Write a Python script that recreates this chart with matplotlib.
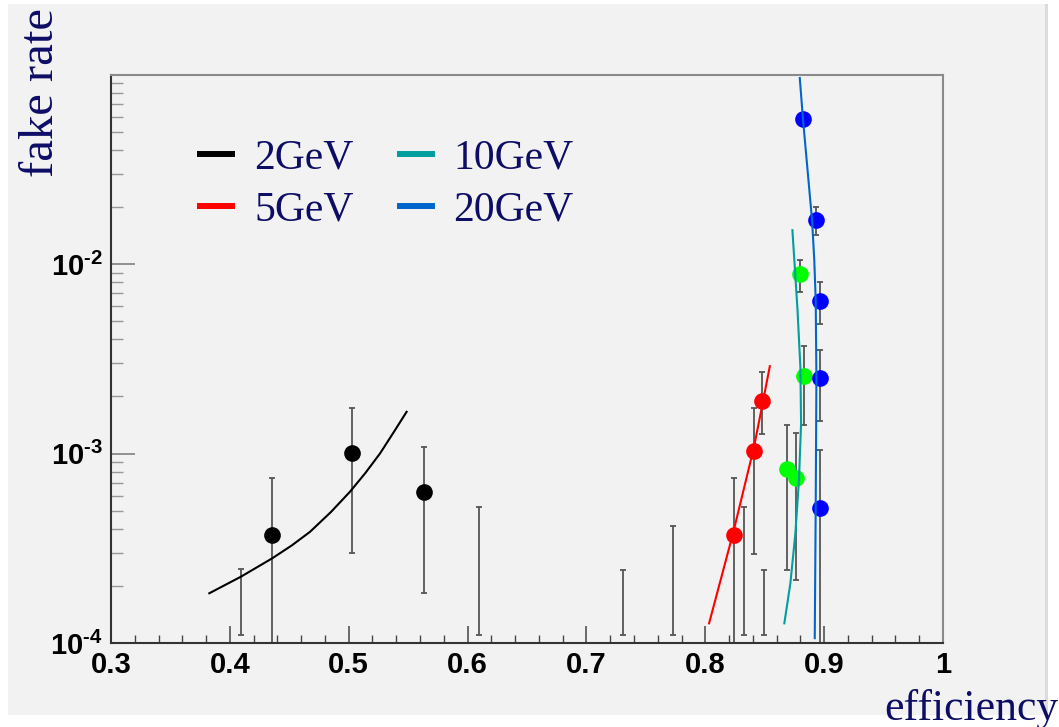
import numpy as np
import matplotlib
matplotlib.use("Agg")
import matplotlib.pyplot as plt
from matplotlib.patches import Rectangle
from matplotlib.lines import Line2D
from matplotlib.ticker import FixedLocator, FixedFormatter, MultipleLocator

plt.rcParams['mathtext.fontset'] = 'custom'
plt.rcParams['mathtext.rm'] = 'Liberation Sans:bold'
plt.rcParams['mathtext.bf'] = 'Liberation Sans:bold'

# measured points: efficiency, fake rate, error bar bounds
eff_2 = [0.4357, 0.5024, 0.5632]
fake_2 = [3.7e-4, 1.01e-3, 6.3e-4]
lo_2 = [5e-5, 2.97e-4, 1.84e-4]
hi_2 = [7.4e-4, 1.73e-3, 1.08e-3]

eff_5 = [0.824, 0.8408, 0.8475]
fake_5 = [3.7e-4, 1.025e-3, 1.9e-3]
lo_5 = [5e-5, 2.96e-4, 1.27e-3]
hi_5 = [7.43e-4, 1.73e-3, 2.7e-3]

eff_10 = [0.8691, 0.8761, 0.8801, 0.8831]
fake_10 = [8.3e-4, 7.4e-4, 8.83e-3, 2.56e-3]
lo_10 = [2.42e-4, 2.16e-4, 7.16e-3, 1.42e-3]
hi_10 = [1.42e-3, 1.28e-3, 1.05e-2, 3.7e-3]

eff_20 = [0.882, 0.8935, 0.8963, 0.8963, 0.8963]
fake_20 = [5.8e-2, 1.71e-2, 6.37e-3, 2.51e-3, 5.17e-4]
lo_20 = [5.8e-2, 1.42e-2, 4.82e-3, 1.49e-3, 5e-5]
hi_20 = [5.8e-2, 2.01e-2, 8.04e-3, 3.51e-3, 1.04e-3]

# bins with zero fake rate, only the upper error is visible
eff_empty = [0.4093, 0.6095, 0.7309, 0.7729, 0.8327, 0.8492]
hi_empty = [2.45e-4, 5.2e-4, 2.43e-4, 4.16e-4, 5.2e-4, 2.43e-4]
lo_empty = 1.1e-4

# fit curves
fit2_x = [0.3827, 0.4094, 0.4357, 0.452, 0.4674, 0.485, 0.5010, 0.514, 0.5263, 0.538, 0.5487]
fit2_y = [1.83e-4, 2.24e-4, 2.80e-4, 3.27e-4, 3.86e-4, 4.91e-4, 6.28e-4, 7.89e-4, 1.00e-3,
          1.30e-3, 1.66e-3]
fit5_x = [0.8032, 0.8234, 0.8408, 0.8475, 0.8543]
fit5_y = [1.27e-4, 3.80e-4, 1.07e-3, 1.74e-3, 2.89e-3]
fit10_x = [0.8665, 0.8716, 0.8758, 0.8788, 0.8806, 0.8800, 0.8775, 0.8733]
fit10_y = [1.27e-4, 2.07e-4, 3.79e-4, 7.24e-4, 1.44e-3, 2.87e-3, 5.86e-3, 1.51e-2]
fit20_x = [0.8795, 0.8822, 0.8898, 0.8917, 0.8929, 0.8935, 0.8929, 0.8921]
fit20_y = [9.59e-2, 5.82e-2, 1.71e-2, 1.05e-2, 6.46e-3, 2.50e-3, 5.22e-4, 1.06e-4]

labels = ['2GeV', '5GeV', '10GeV', '20GeV']
x_ticks = [0.3, 0.4, 0.5, 0.6, 0.7, 0.8, 0.9, 1.0]
x_ticklabels = ['0.3', '0.4', '0.5', '0.6', '0.7', '0.8', '0.9', '1']
y_ticks = [1e-4, 1e-3, 1e-2]
y_ticklabels = [r'$10^{\text{-}4}$', r'$10^{\text{-}3}$', r'$10^{\text{-}2}$']

navy = '#0d0d66'
bg = '#f2f2f2'
W, H = 1059, 727

fig = plt.figure(figsize=(W / 100, H / 100), dpi=100)
fig.patch.set_facecolor('white')
fig.patches.append(Rectangle((8 / W, 12 / H), 1039 / W, 711 / H, transform=fig.transFigure,
                             facecolor=bg, edgecolor='none', zorder=-10))
fig.patches.append(Rectangle((1045 / W, 12 / H), 3 / W, 711 / H, transform=fig.transFigure,
                             facecolor='#dcdcdc', edgecolor='none', zorder=-9))

ax = fig.add_axes([111 / W, (H - 643) / H, (943 - 111) / W, (643 - 75) / H])
ax.set_facecolor(bg)
ax.set_yscale('log')
ax.set_xlim(0.3, 1.0)
ax.set_ylim(1e-4, 0.0995)

err_kw = dict(fmt='none', ecolor='#555555', elinewidth=1.3, capsize=2.2, capthick=1.3, zorder=2)


def draw_points(x, y, lo, hi, color):
    x = np.array(x)
    y = np.array(y)
    yerr = [y - np.array(lo), np.array(hi) - y]
    ax.errorbar(x, y, yerr=yerr, **err_kw)
    ax.plot(x, y, 'o', color=color, markersize=12, markeredgewidth=0, zorder=3)


hi_e = np.array(hi_empty)
ax.errorbar(eff_empty, hi_e, yerr=[hi_e - lo_empty, np.zeros_like(hi_e)], **err_kw)

draw_points(eff_2, fake_2, lo_2, hi_2, 'black')
draw_points(eff_5, fake_5, lo_5, hi_5, '#ff0000')
draw_points(eff_10, fake_10, lo_10, hi_10, '#00ff00')
draw_points(eff_20, fake_20, lo_20, hi_20, '#0000ff')

fit_colors = ['black', '#ff0000', '#009e9e', '#0066cc']
ax.plot(fit2_x, fit2_y, color=fit_colors[0], lw=1.5, zorder=4)
ax.plot(fit5_x, fit5_y, color=fit_colors[1], lw=1.5, zorder=4)
ax.plot(fit10_x, fit10_y, color=fit_colors[2], lw=1.5, zorder=4)
ax.plot(fit20_x, fit20_y, color=fit_colors[3], lw=1.5, zorder=4)

# axes styling, ROOT-like
for side in ['top', 'right']:
    ax.spines[side].set_color('#8a8a8a')
for side in ['left', 'bottom']:
    ax.spines[side].set_color('#333333')
for sp in ax.spines.values():
    sp.set_linewidth(1.5)

ax.xaxis.set_major_locator(FixedLocator(x_ticks))
ax.xaxis.set_major_formatter(FixedFormatter(x_ticklabels))
ax.xaxis.set_minor_locator(MultipleLocator(0.02))
ax.yaxis.set_major_locator(FixedLocator(y_ticks))
ax.yaxis.set_major_formatter(FixedFormatter(y_ticklabels))
ax.yaxis.set_minor_locator(FixedLocator([m * d for d in [1e-4, 1e-3, 1e-2] for m in range(2, 10)]))

ax.tick_params(axis='x', which='major', direction='in', length=12, width=1.1, color='#444444',
               pad=6, labelsize=21)
ax.tick_params(axis='x', which='minor', direction='in', length=6, width=1.0, color='#444444')
ax.tick_params(axis='y', which='major', direction='in', length=17, width=1.1, color='#777777',
               pad=6, labelsize=21)
ax.tick_params(axis='y', which='minor', direction='in', length=8.5, width=1.0, color='#999999')
for lab in ax.get_xticklabels():
    lab.set_fontfamily('Liberation Sans')
    lab.set_fontweight('bold')

handles = [Line2D([], [], color=c, lw=4.3, solid_capstyle='butt') for c in fit_colors]
leg = ax.legend(handles, labels, ncol=2, frameon=False, loc='upper left',
                bbox_to_anchor=(197 / W, (H - 139) / H), bbox_transform=fig.transFigure,
                prop={'family': 'Liberation Serif', 'size': 30},
                handlelength=0.92, handletextpad=0.45, columnspacing=1.03,
                labelspacing=0.32, borderpad=0, borderaxespad=0)
for t in leg.get_texts():
    t.set_color(navy)

fig.text(53 / W, (H - 8) / H, 'fake rate', rotation=90, rotation_mode='anchor',
         ha='right', va='baseline', color=navy, family='Liberation Serif', fontsize=35)
fig.text(1058 / W, (H - 720) / H, 'efficiency', ha='right', va='baseline',
         color=navy, family='Liberation Serif', fontsize=31.5)

fig.savefig('out.png', dpi=100)
